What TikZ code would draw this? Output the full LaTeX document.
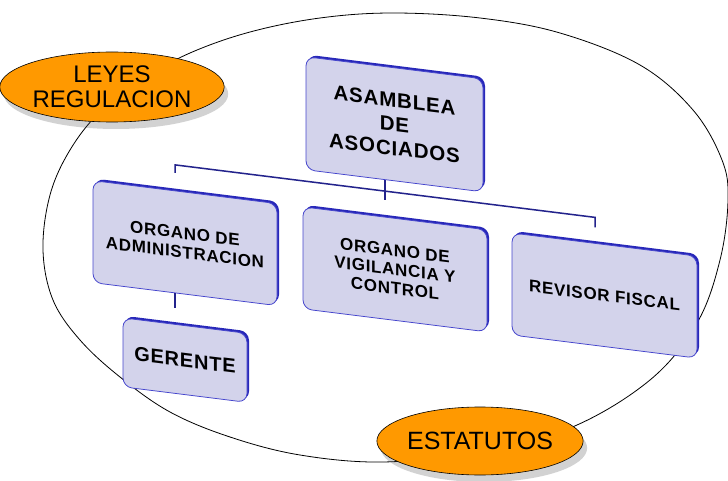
\documentclass[tikz,border=0pt]{standalone}
\usepackage{fontspec}
\setmainfont{Liberation Sans}
\newfontfamily\boxfont[LetterSpace=4]{Liberation Sans}
\usetikzlibrary{shapes.geometric,shadows}

\definecolor{lila}{RGB}{211,211,235}
\definecolor{borde}{RGB}{70,70,205}
\definecolor{canto}{RGB}{40,40,185}
\definecolor{linea}{RGB}{35,35,140}
\definecolor{naranja}{RGB}{255,153,0}

\begin{document}
\begin{tikzpicture}[x=1pt,y=-1pt]
	\tikzstyle{caja}=[draw=borde, line width=0.8pt, fill=lila, rounded corners=9pt, align=center, inner sep=0pt, transform shape, general shadow={shadow xshift=2pt, shadow yshift=2pt, fill=canto}]
	\tikzstyle{enlace}=[draw=linea, line width=1.5pt]
	\tikzstyle{globo}=[ellipse, draw=black, line width=0.6pt, fill=naranja, inner sep=0pt, align=center, drop shadow={shadow xshift=4pt, shadow yshift=-7pt, opacity=0.25, fill=black!70}]
	\tikzstyle{curva}=[draw=black, line width=0.8pt]

	\useasboundingbox (0,0) rectangle (728,481);

	% contorno
	\draw[curva] plot[smooth cycle, tension=0.6] coordinates {(393,13) (480,18) (560,33) (640,65) (693,110) (722,160) (728,200) (720,260) (697,323) (650,380) (570,428) (475,452) (383,462) (300,455) (230,437) (170,412) (120,377) (80,340) (53,300) (43,250) (50,195) (70,150) (100,112) (145,78) (190,53) (250,32) (320,18)};

	\begin{scope}[yslant=-0.125]
		\node[caja, minimum width=177pt, minimum height=113pt, font=\boxfont\bfseries\fontsize{20.5}{24}\selectfont] (asam) at (394.5,75) {ASAMBLEA\\DE\\ASOCIADOS};
		\node[caja, minimum width=184pt, minimum height=102pt, font=\boxfont\bfseries\fontsize{17}{19}\selectfont] (adm) at (185,220) {ORGANO DE\\ADMINISTRACION};
		\node[caja, minimum width=184pt, minimum height=102pt, font=\boxfont\bfseries\fontsize{17}{19}\selectfont] (vig) at (395,220) {ORGANO DE\\VIGILANCIA Y\\CONTROL};
		\node[caja, minimum width=185pt, minimum height=102pt, font=\boxfont\bfseries\fontsize{17}{19}\selectfont] (rev) at (604.5,220) {REVISOR FISCAL};
		\node[caja, minimum width=124pt, minimum height=69pt, font=\boxfont\bfseries\fontsize{20}{22}\selectfont] (ger) at (185,337) {GERENTE};

		\coordinate (bl) at (175,143);
		\coordinate (br) at (595,143);
		\coordinate (pa) at (175,151);
		\coordinate (pr) at (595,153);
		\coordinate (bm) at (385,152);
		\coordinate (ga) at (175,286);

		\draw[enlace] (pa) -- (bl) -- (br) -- (pr);
		\draw[enlace] (asam.south -| bm) -- (bm);
		\draw[enlace] (adm.south -| ga) -- (ga);
	\end{scope}

	\node[globo, minimum width=203pt, minimum height=70pt, font=\fontsize{24}{25}\selectfont] (leyes) at (112,87) {LEYES\\REGULACION};
	\node[globo, minimum width=204pt, minimum height=68pt, font=\fontsize{25}{26}\selectfont] (estat) at (480,441) {ESTATUTOS};
\end{tikzpicture}
\end{document}
